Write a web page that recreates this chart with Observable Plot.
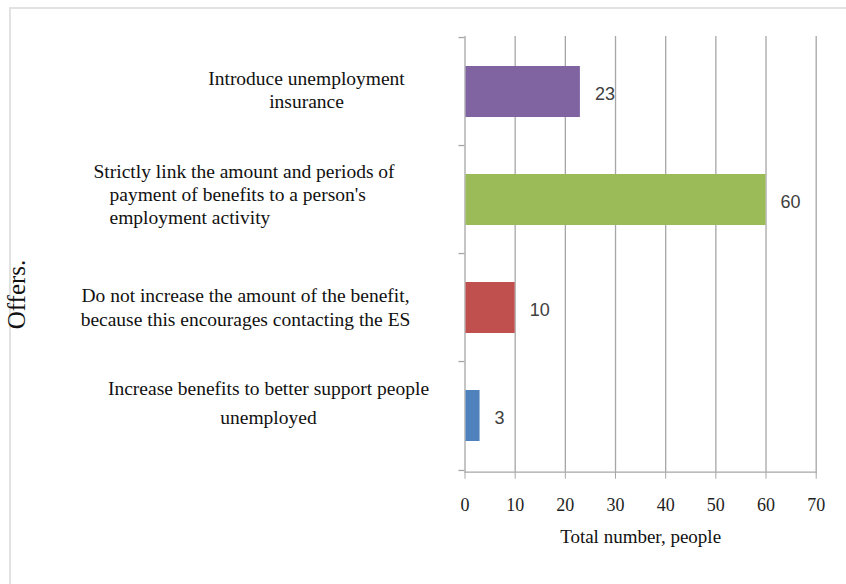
<!DOCTYPE html>
<html><head><meta charset="utf-8">
<script src="https://cdn.jsdelivr.net/npm/d3@7"></script>
<script src="https://cdn.jsdelivr.net/npm/@observablehq/plot@0.6"></script>
<style>
body{margin:0;background:#fff;}
#wrap{position:relative;width:846px;height:584px;overflow:hidden;}
#frame{position:absolute;left:9px;top:7px;width:860px;height:600px;border-left:2px solid #e2e2e2;border-top:2px solid #e2e2e2;pointer-events:none;}
#wrap svg{position:absolute;left:0;top:0;}
</style></head><body><div id="wrap"><div id="frame"></div></div>
<script>
const categories = [
  "Introduce unemployment\ninsurance",
  "Strictly link the amount and periods of\npayment of benefits to a person's\nemployment activity",
  "Do not increase the amount of the benefit,\nbecause this encourages contacting the ES",
  "Increase benefits to better support people\nunemployed"
];
const values = [23, 60, 10, 3];
const colors = ["#8064A2", "#9BBB59", "#C0504D", "#4F81BD"];
const xTicks = [0, 10, 20, 30, 40, 50, 60, 70];
const xLabel = "Total number, people";
const yLabel = "Offers.";

const data = categories.map((c, i) => ({category: c, value: values[i]}));

const W = 846, H = 584, mL = 464.5, mR = 30.3, mT = 36, mB = H - 471.7;
const step = (H - mT - mB) / categories.length;
const grid = "#a6a6a6";
// layout of the category labels: each entry draws a range of lines of the label
const labelLayout = [
  [{from: 0, to: 2, x: 306, anchor: "middle", dy: -2.5, lh: 1.16}],
  [{from: 0, to: 1, x: 93, anchor: "start", dy: -29.5, lh: 1.2},
   {from: 1, to: 3, x: 109, anchor: "start", dy: 5, lh: 1.2}],
  [{from: 0, to: 2, x: 245, anchor: "middle", dy: -1.5, lh: 1.25}],
  [{from: 0, to: 2, x: 268, anchor: "middle", dy: -16, lh: 1.52}]
];

const labelMarks = [];
data.forEach((d, i) => {
  labelLayout[i].forEach(L => {
    labelMarks.push(Plot.text([d], {
      y: "category", text: r => r.category.split("\n").slice(L.from, L.to).join("\n"),
      frameAnchor: "left", dx: L.x - mL, dy: L.dy,
      textAnchor: L.anchor, lineAnchor: "middle", lineHeight: L.lh,
      fontSize: 19.5, fill: "#111"
    }));
  });
});

const chart = Plot.plot({
  width: W, height: H,
  marginLeft: mL, marginRight: mR, marginTop: mT, marginBottom: mB,
  style: {background: "transparent", fontFamily: "'Liberation Serif', 'Times New Roman', serif", overflow: "visible"},
  x: {domain: [0, 70]},
  y: {domain: categories, paddingInner: 0.53, paddingOuter: 0.265, axis: null},
  color: {domain: categories, range: colors},
  marks: [
    Plot.ruleX(xTicks, {x: d => d, stroke: grid, strokeWidth: 1.3}),
    Plot.frame({anchor: "bottom", stroke: grid, strokeWidth: 1.3}),
    Plot.ruleY(categories, {y: d => d, dy: -step / 2, x1: -1.2, x2: 0, stroke: grid, strokeWidth: 1.3}),
    Plot.ruleY(categories.slice(-1), {y: d => d, dy: step / 2, x1: -1.2, x2: 0, stroke: grid, strokeWidth: 1.3}),
    Plot.barX(data, {x: "value", y: "category", fill: "category", insetLeft: 1}),
    Plot.text(data, {x: "value", y: "category", text: d => String(d.value), textAnchor: "start", dx: 14.5, dy: 2.5,
      fontFamily: "'Liberation Sans', Arial, sans-serif", fontSize: 18, fill: "#404040"}),
    ...labelMarks,
    Plot.axisX({ticks: xTicks, tickSize: 7, tickPadding: 19, fontSize: 18, stroke: grid, fill: "#222", label: null, tickFormat: d => String(d)}),
    Plot.text([xLabel], {text: d => d, frameAnchor: "bottom", dy: 65, lineAnchor: "middle", fontSize: 19, fill: "#111"}),
    Plot.text([yLabel], {text: d => d, frameAnchor: "top-left", dx: 16 - mL, dy: 258, rotate: -90, textAnchor: "middle", lineAnchor: "middle", fontSize: 25, fill: "#111"})
  ]
});
document.getElementById("wrap").appendChild(chart);
</script></body></html>
